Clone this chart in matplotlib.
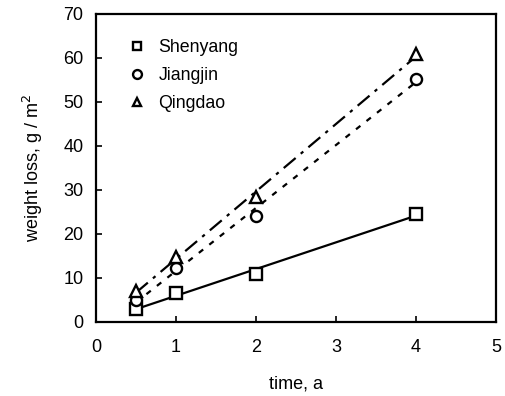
import numpy as np
import matplotlib
matplotlib.use("Agg")
import matplotlib.pyplot as plt

plt.rcParams['font.family'] = ['Liberation Sans', 'DejaVu Sans']

time_a = [0.5, 1, 2, 4]
shenyang = [3.0, 6.5, 11.0, 24.5]
jiangjin = [5.0, 12.2, 24.0, 55.2]
qingdao = [7.0, 14.8, 28.3, 60.8]
series_names = ["Shenyang", "Jiangjin", "Qingdao"]
xticks = [0, 1, 2, 3, 4, 5]
yticks = [0, 10, 20, 30, 40, 50, 60, 70]

fig = plt.figure(figsize=(5.05, 3.96), dpi=100)
ax = fig.add_axes([0.190, 0.187, 0.792, 0.778])

styles = [
    dict(marker='s', ls='-'),
    dict(marker='o', ls=(0, (2.5, 3.5))),
    dict(marker='^', ls=(0, (7, 3, 1.5, 3))),
]
x = np.array(time_a)
for name, y, st in zip(series_names, [shenyang, jiangjin, qingdao], styles):
    ax.plot(x, y, st['marker'], mfc='white', mec='black', mew=1.7, ms=8,
            ls='none', label=name, zorder=3)
    k, b = np.polyfit(x, y, 1)
    xx = np.array([x.min(), x.max()])
    ax.plot(xx, k * xx + b, color='black', lw=1.6, ls=st['ls'], zorder=2)

ax.set_xlim(0, 5)
ax.set_ylim(0, 70)
ax.set_xticks(xticks)
ax.set_yticks(yticks)
ax.tick_params(direction='in', length=4, width=1.2, labelsize=13)
ax.tick_params(axis='x', pad=12)
ax.tick_params(axis='y', pad=9)
for s in ax.spines.values():
    s.set_linewidth(1.6)

ax.set_xlabel("time, a", fontsize=13, labelpad=14)
ax.set_ylabel("weight loss, g / m$^2$", fontsize=13, labelpad=13)

ax.legend(loc='upper left', frameon=False, fontsize=12.8, handletextpad=0.7,
          borderaxespad=0.0, labelspacing=0.62, handlelength=1.0,
          markerscale=0.8, bbox_to_anchor=(0.063, 0.942))

fig.savefig("out.png", dpi=100)
